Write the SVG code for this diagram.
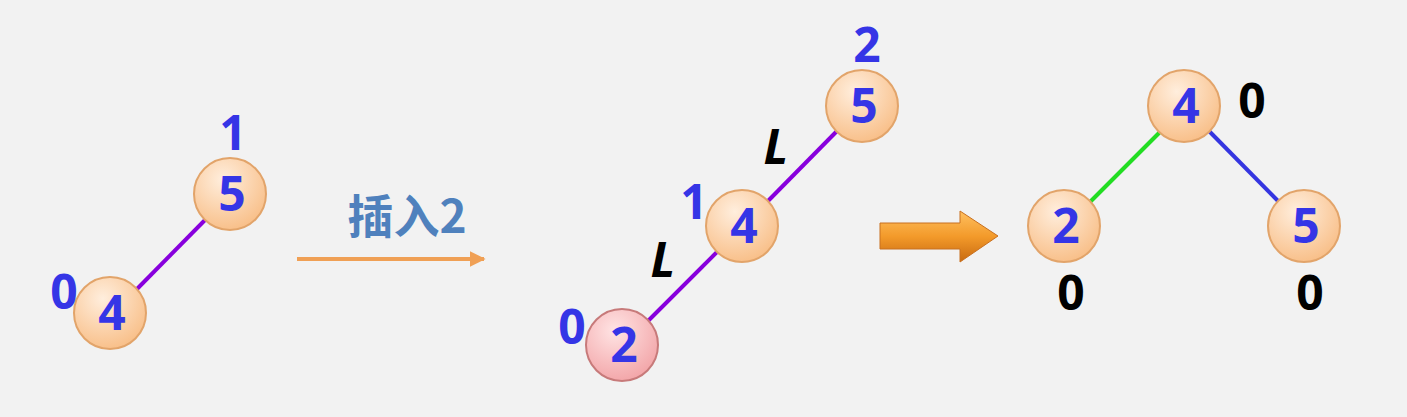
<svg xmlns="http://www.w3.org/2000/svg" width="1407" height="417" viewBox="0 0 1407 417">
<defs>
<radialGradient id="gOrange" cx="0.4" cy="0.3" r="0.75">
<stop offset="0" stop-color="#ffeedd"/>
<stop offset="1" stop-color="#f8bd85"/>
</radialGradient>
<radialGradient id="gPink" cx="0.4" cy="0.3" r="0.75">
<stop offset="0" stop-color="#ffe4e4"/>
<stop offset="1" stop-color="#f2a3a6"/>
</radialGradient>
<linearGradient id="gArrow" x1="0" y1="0" x2="0" y2="1">
<stop offset="0" stop-color="#ffc060"/>
<stop offset="0.5" stop-color="#f39a2a"/>
<stop offset="1" stop-color="#c86a10"/>
</linearGradient>
<marker id="mArr" viewBox="0 0 10 10" refX="9" refY="5" markerWidth="4" markerHeight="4" orient="auto">
<path d="M0,0 L10,5 L0,10 z" fill="#f0a055"/>
</marker>
</defs>
<style>
.node{fill:url(#gOrange);stroke:#e2a46a;stroke-width:2}
.pink{fill:url(#gPink);stroke:#c77a7a;stroke-width:2}
.val{font-family:"Open Sans","Liberation Sans",sans-serif;font-weight:bold;font-size:48px;fill:#3535e6;text-anchor:middle}
.bf{font-family:"Open Sans","Liberation Sans",sans-serif;font-weight:bold;font-size:48px;fill:#3535e6;text-anchor:middle}
.bk{font-family:"Open Sans","Liberation Sans",sans-serif;font-weight:bold;font-size:48px;fill:#000;text-anchor:middle}
.lab{font-family:"Open Sans","Liberation Sans",sans-serif;font-weight:bold;font-style:italic;font-size:48px;fill:#000;text-anchor:middle}
.edge{stroke:#8800dd;stroke-width:4;fill:none}
</style>
<rect width="1407" height="417" fill="#f2f2f2"/>
<g id="connectors">
<line class="edge" x1="206" y1="219" x2="136" y2="290"/>
<line class="edge" x1="837" y1="131" x2="767" y2="202"/>
<line class="edge" x1="718" y1="251" x2="647" y2="322"/>
<line x1="1160" y1="132" x2="1089" y2="203" stroke="#22dd22" stroke-width="4"/>
<line x1="1209" y1="131" x2="1280" y2="203" stroke="#3535e0" stroke-width="4"/>
<line x1="297" y1="259" x2="484" y2="259" stroke="#f0a055" stroke-width="4" marker-end="url(#mArr)"/>
</g>
<g id="insert-label">
<text x="407" y="233" font-family="'Noto Sans CJK SC','Liberation Sans',sans-serif" font-weight="bold" font-size="46" fill="#4f81bd" text-anchor="middle">插入2</text>
</g>
<g id="big-arrow">
<path d="M880,223 L960,223 L960,211 L998,236 L960,262 L960,249 L880,249 Z" fill="url(#gArrow)" stroke="#c87020" stroke-width="1"/>
</g>
<g id="L1-n5"><circle class="node" cx="230" cy="194" r="36"/><text class="val" x="232" y="211">5</text><text class="bf" x="233" y="150">1</text></g>
<g id="L1-n4"><circle class="node" cx="110" cy="313" r="36"/><text class="val" x="112" y="330">4</text><text class="bf" x="64" y="309">0</text></g>
<g id="M-n5"><circle class="node" cx="862" cy="106" r="36"/><text class="val" x="864" y="123">5</text><text class="bf" x="867" y="62">2</text></g>
<g id="M-n4"><circle class="node" cx="742" cy="226" r="36"/><text class="val" x="744" y="243">4</text><text class="bf" x="694" y="219">1</text></g>
<g id="M-n2"><circle class="pink" cx="622" cy="345" r="36"/><text class="val" x="624" y="362">2</text><text class="bf" x="572" y="344">0</text></g>
<g id="M-labels"><text class="lab" x="776" y="164">L</text><text class="lab" x="663" y="277">L</text></g>
<g id="R-n4"><circle class="node" cx="1184" cy="106" r="36"/><text class="val" x="1186" y="123">4</text><text class="bk" x="1252" y="118">0</text></g>
<g id="R-n2"><circle class="node" cx="1064" cy="226" r="36"/><text class="val" x="1066" y="243">2</text><text class="bk" x="1071" y="310">0</text></g>
<g id="R-n5"><circle class="node" cx="1304" cy="226" r="36"/><text class="val" x="1306" y="243">5</text><text class="bk" x="1310" y="310">0</text></g>
</svg>
